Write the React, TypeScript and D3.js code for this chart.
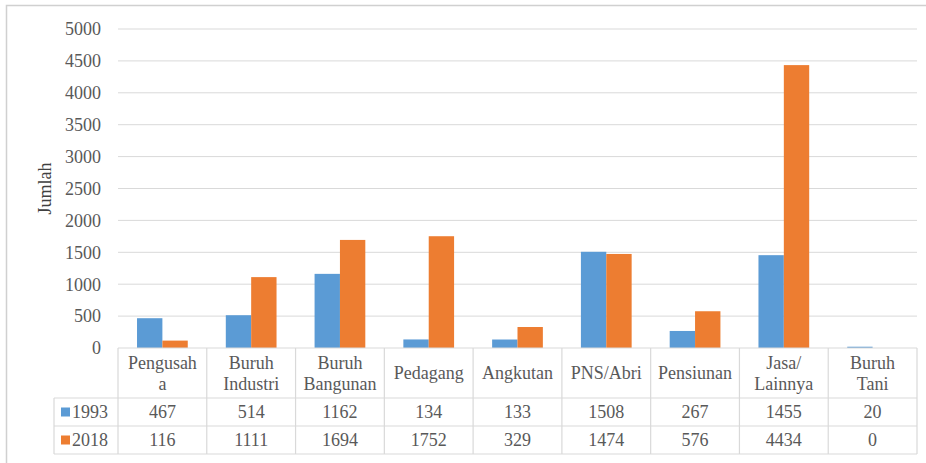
import React from "react";
import * as d3 from "d3";

const categories: string[][] = [
  ["Pengusah", "a"],
  ["Buruh", "Industri"],
  ["Buruh", "Bangunan"],
  ["Pedagang"],
  ["Angkutan"],
  ["PNS/Abri"],
  ["Pensiunan"],
  ["Jasa/", "Lainnya"],
  ["Buruh", "Tani"],
];
const seriesNames = ["1993", "2018"];
const values1993 = [467, 514, 1162, 134, 133, 1508, 267, 1455, 20];
const values2018 = [116, 1111, 1694, 1752, 329, 1474, 576, 4434, 0];
const yTicks = [0, 500, 1000, 1500, 2000, 2500, 3000, 3500, 4000, 4500, 5000];
const colors = ["#5B9BD5", "#ED7D31"];
const axisTitle = "Jumlah";

const W = 926;
const H = 463;
const left = 118;
const right = 917;
const top = 29;
const bottom = 348;
const tableLeft = 54;
const headerBottom = 398;
const row1Bottom = 426;
const row2Bottom = 454;
const textColor = "#595959";
const gridColor = "#D9D9D9";

function T(props: any) {
  const { children, style, ...rest } = props;
  return (
    <text
      fontFamily="Liberation Serif"
      fontSize={18}
      fill={textColor}
      style={{ fontFamily: "'Liberation Serif', Tinos, 'Times New Roman'", fontSize: "18px", ...(style || {}) }}
      {...rest}
    >
      {children}
    </text>
  );
}

export default function App() {
  const keys = categories.map((c) => c.join(" "));
  const series = [values1993, values2018];
  const x0 = d3.scaleBand<string>().domain(keys).range([left, right]).padding(0);
  const bw = x0.bandwidth();
  const w = bw / 3.5;
  const x1 = d3.scaleBand<string>().domain(seriesNames).range([0.75 * w, 2.75 * w]).padding(0);
  const y = d3.scaleLinear().domain([0, 5000]).range([bottom, top]);

  const rowBottoms = [row1Bottom, row2Bottom];
  const rowTops = [headerBottom, row1Bottom];

  return (
    <div style={{ fontFamily: "'Liberation Serif', serif" }}>
      <svg
        width={W}
        height={H}
        style={{ position: "absolute", left: 0, top: 0 }}
      >
        <rect x={6.5} y={5.5} width={940} height={480} fill="#fff" stroke="#D0D0D0" strokeWidth={1.5} />
        {yTicks.map((t) => (
          <g key={t}>
            {t > 0 && (
              <line x1={left} x2={right} y1={y(t)} y2={y(t)} stroke={gridColor} strokeWidth={1} />
            )}
            <T x={101} y={y(t)} dy="0.35em" textAnchor="end">
              {t}
            </T>
          </g>
        ))}
        <T
          transform={`translate(45,${(top + bottom) / 2}) rotate(-90)`}
          textAnchor="middle"
          dy="0.35em"
          fill="#404040"
        >
          {axisTitle}
        </T>
        {keys.map((k, i) => (
          <g key={k} transform={`translate(${x0(k)},0)`}>
            {series.map((vals, s) => (
              <rect
                key={s}
                x={x1(seriesNames[s])}
                y={y(vals[i])}
                width={x1.bandwidth()}
                height={bottom - y(vals[i])}
                fill={colors[s]}
              />
            ))}
          </g>
        ))}
        <line x1={left} x2={right} y1={bottom} y2={bottom} stroke={gridColor} strokeWidth={1.2} />
        {[headerBottom, row1Bottom, row2Bottom].map((yy) => (
          <line key={yy} x1={tableLeft} x2={right} y1={yy} y2={yy} stroke={gridColor} strokeWidth={1.2} />
        ))}
        <line x1={tableLeft} x2={tableLeft} y1={headerBottom} y2={row2Bottom} stroke={gridColor} strokeWidth={1.2} />
        {keys.map((k) => (
          <line key={k} x1={x0(k)!} x2={x0(k)!} y1={bottom} y2={row2Bottom} stroke={gridColor} strokeWidth={1.2} />
        ))}
        <line x1={right} x2={right} y1={bottom} y2={row2Bottom} stroke={gridColor} strokeWidth={1.2} />
        {categories.map((lines, i) => {
          const cx = x0(keys[i])! + bw / 2;
          const mid = (bottom + headerBottom) / 2;
          const lh = 21;
          const start = mid - ((lines.length - 1) * lh) / 2;
          return (
            <T key={keys[i]} x={cx} textAnchor="middle">
              {lines.map((l, j) => (
                <tspan key={j} x={cx} y={start + j * lh} dy="0.35em">
                  {l}
                </tspan>
              ))}
            </T>
          );
        })}
        {series.map((vals, s) => {
          const cy = (rowTops[s] + rowBottoms[s]) / 2;
          return (
            <g key={s}>
              <rect x={61} y={cy - 4.5} width={9} height={9} fill={colors[s]} />
              <T x={72} y={cy} dy="0.35em">
                {seriesNames[s]}
              </T>
              {vals.map((v, i) => (
                <T key={i} x={x0(keys[i])! + bw / 2} y={cy} dy="0.35em" textAnchor="middle">
                  {v}
                </T>
              ))}
            </g>
          );
        })}
      </svg>
    </div>
  );
}
